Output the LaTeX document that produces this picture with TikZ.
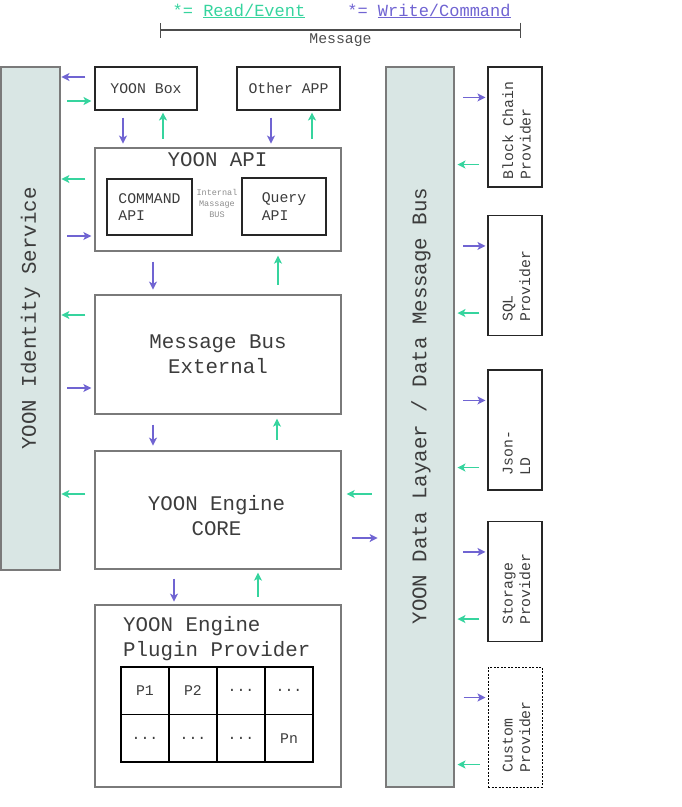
\documentclass[tikz,border=0pt]{standalone}
\usepackage{fontspec}
\setmainfont{Liberation Mono}
\usetikzlibrary{arrows.meta}
\definecolor{rdcol}{HTML}{36D49E}
\definecolor{wrcol}{HTML}{7064D2}
\definecolor{busfill}{HTML}{D9E6E4}
\definecolor{edgegray}{HTML}{7A7A7A}
\definecolor{txtcol}{HTML}{3C3C3C}
\newcommand\pdots{...}

\begin{document}
\begin{tikzpicture}[x=1pt,y=-1pt,
    every node/.style={text=txtcol,inner sep=2pt},
    bigbox/.style={draw=edgegray,line width=1.3pt,minimum width=246pt},
    smallbox/.style={draw=black!85,line width=1.1pt},
    busbar/.style={draw=edgegray,line width=1.5pt,fill=busfill},
    cell/.style={draw=black,line width=1.1pt,minimum width=48pt,minimum height=47.5pt},
    bigtxt/.style={font=\fontsize{20.8}{25}\selectfont},
    midtxt/.style={font=\fontsize{14.8}{17.5}\selectfont},
    legtxt/.style={font=\fontsize{17}{20}\selectfont},
    tinytxt/.style={font=\fontsize{8.5}{11}\selectfont,text=black!45},
    rd/.style={rdcol,line width=1.3pt,-{Stealth[length=8pt,width=8pt,inset=2pt]}},
    wr/.style={wrcol,line width=1.3pt,-{Stealth[length=8pt,width=8pt,inset=2pt]}}]
  \useasboundingbox (0,0) rectangle (681,807);
  % Legend
  \node[legtxt,text=rdcol] (lgread) at (239,11) {*= \underline{Read/Event}};
  \node[legtxt,text=wrcol] (lgwrite) at (429,11) {*= \underline{Write/Command}};
  \coordinate (msgl) at (160,30);
  \coordinate (msgr) at (521,30);
  \draw[black!70,line width=1.3pt,{Bar[width=15pt]}-{Bar[width=15pt]}] (msgl) -- (msgr)
    node[midway,below=1pt,midtxt,text=black!70] (msgtxt) {Message};
  % Side bars
  \node[busbar,minimum width=59pt,minimum height=503pt] (idsvc) at (30.5,318.5) {};
  \node[bigtxt,rotate=90] (idtxt) at (idsvc.center) {YOON Identity Service};
  \node[busbar,minimum width=68pt,minimum height=720pt] (data) at (420,427) {};
  \node[bigtxt,rotate=90] (datatxt) at (421,406) {YOON Data Layaer / Data Message Bus};
  % Clients
  \node[smallbox,midtxt,minimum width=102pt,minimum height=43pt] (ybox) at (146,88.5) {YOON Box};
  \node[smallbox,midtxt,minimum width=103pt,minimum height=43pt] (oapp) at (288.5,88.5) {Other APP};
  % API
  \node[bigbox,minimum height=103pt] (api) at (218,199.5) {};
  \node[bigtxt] (apititle) at (217.5,160) {YOON API};
  \node[smallbox,midtxt,align=left,minimum width=85pt,minimum height=56pt] (cmd) at (149.5,207) {COMMAND\\API};
  \node[smallbox,midtxt,align=left,minimum width=84pt,minimum height=57pt] (qry) at (284,206.5) {Query\\API};
  \node[tinytxt,align=center] (ibus) at (217,203) {Internal\\Massage\\BUS};
  % Bus, core, plugins
  \node[bigbox,bigtxt,align=center,minimum height=119pt] (bus) at (218,354.5) {Message Bus\\External};
  \node[bigbox,minimum height=118pt] (core) at (218,510) {};
  \node[bigtxt,align=center] (coretxt) at (216.5,515.5) {YOON Engine\\CORE};
  \node[bigbox,minimum height=182pt] (plug) at (218,696) {};
  \node[bigtxt,align=left,anchor=west] (plugtxt) at (121,639) {YOON Engine\\Plugin Provider};
  \foreach \lbl [count=\i from 0] in {P1,P2,\pdots,\pdots,\pdots,\pdots,\pdots,Pn} {
    \pgfmathtruncatemacro\col{mod(\i,4)}
    \pgfmathtruncatemacro\row{\i/4}
    \node[cell,midtxt] (cell\i) at (145+48*\col,690.75+47.5*\row) {\lbl};
  }
  % Providers
  \foreach \nm/\yc/\txt/\off in {pblock/127/{Block Chain\\Provider}/6,
      psql/275.5/{SQL\\Provider}/12,pjson/430/{Json-\\LD}/13,pstore/581.5/{Storage\\Provider}/15} {
    \node[smallbox,minimum width=54pt,minimum height=120pt] (\nm) at (515,\yc) {};
    \node[midtxt,rotate=90,anchor=west,align=left] (\nm-txt) at ([shift={(1.5,-\off)}]\nm.south) {\txt};
  }
  \node[draw=black,line width=1pt,dash pattern=on 2pt off 1.5pt,minimum width=54pt,minimum height=120pt] (pcust) at (515,727) {};
  \node[midtxt,rotate=90,anchor=west,align=left] (pcust-txt) at ([shift={(1.5,-13)}]pcust.south) {Custom\\Provider};
  \foreach \nm in {pblock,psql,pjson,pstore,pcust} {
    \draw[wr] ([shift={(-24,31)}]\nm.north west) -- ++(22,0);
    \draw[rd] ([shift={(-8,-23)}]\nm.south west) -- ++(-22,0);
  }
  % Identity arrows
  \draw[wr] ([shift={(-9,-11.5)}]ybox.west) -- ++(-24,0);
  \draw[rd] ([shift={(-27,12.5)}]ybox.west) -- ++(24,0);
  \draw[rd] ([shift={(-9,-20.5)}]api.west) -- ++(-24,0);
  \draw[wr] ([shift={(-27,36.5)}]api.west) -- ++(24,0);
  \draw[rd] ([shift={(-9,-39.5)}]bus.west) -- ++(-24,0);
  \draw[wr] ([shift={(-27,33.5)}]bus.west) -- ++(24,0);
  \draw[rd] ([shift={(-9,-16)}]core.west) -- ++(-24,0);
  % Vertical flow
  \draw[wr] ([shift={(-23,7)}]ybox.south) -- ++(0,26);
  \draw[rd] ([shift={(17,28)}]ybox.south) -- ++(0,-26);
  \draw[wr] ([shift={(-17.5,7)}]oapp.south) -- ++(0,26);
  \draw[rd] ([shift={(23.5,28)}]oapp.south) -- ++(0,-26);
  \draw[wr] ([shift={(-65,10)}]api.south) -- ++(0,28);
  \draw[rd] ([shift={(60,33)}]api.south) -- ++(0,-29);
  \draw[wr] ([shift={(-65,10)}]bus.south) -- ++(0,21);
  \draw[rd] ([shift={(59,25)}]bus.south) -- ++(0,-21);
  \draw[wr] ([shift={(-44,9)}]core.south) -- ++(0,23);
  \draw[rd] ([shift={(40,27)}]core.south) -- ++(0,-24);
  % Core and data layer
  \draw[rd] ([shift={(30,-16)}]core.east) -- ++(-25,0);
  \draw[wr] ([shift={(10,28)}]core.east) -- ++(26,0);
\end{tikzpicture}
\end{document}
